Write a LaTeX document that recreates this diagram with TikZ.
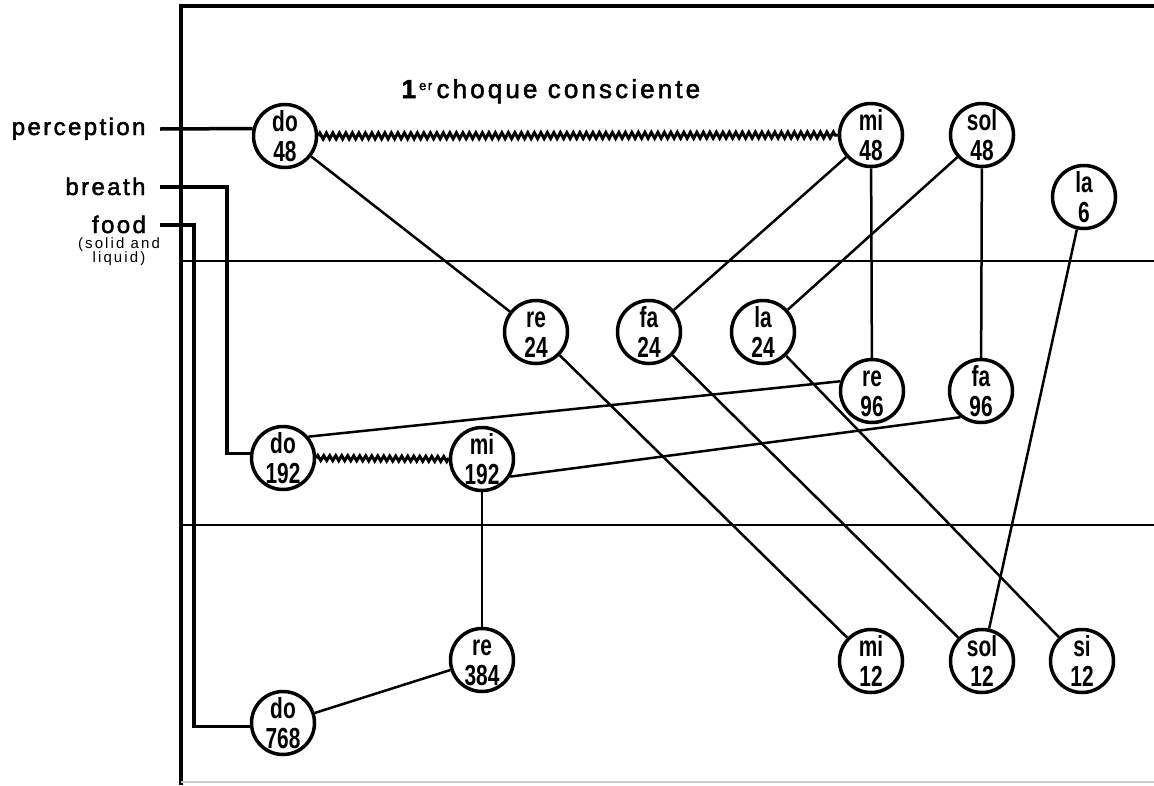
\documentclass[tikz,border=0pt]{standalone}
\usepackage{fontspec}
\setmainfont{Liberation Sans}
\newfontfamily\notefont[FakeStretch=0.72,UprightFont=* Bold]{Liberation Sans}
\newfontfamily\spacedfont[LetterSpace=10,FakeBold=2]{Liberation Sans}
\newfontfamily\smallspaced[LetterSpace=14]{Liberation Sans}
\newfontfamily\titlefont[LetterSpace=12,FakeBold=2]{Liberation Sans}
\usetikzlibrary{decorations.pathmorphing}
\newcommand\pitch[2]{\vphantom{d}#1\\#2}

\begin{document}
\begin{tikzpicture}[x=1pt,y=-1pt,
  note/.style={circle, draw, line width=3.5pt, minimum size=63pt, inner sep=0pt,
    align=center, font=\notefont\fontsize{29}{30}\selectfont},
  link/.style={line width=2.5pt},
  feed/.style={line width=3.5pt},
  frame/.style={line width=3.5pt},
  band/.style={line width=2.5pt},
  shock/.style={line width=3pt, decorate,
    decoration={zigzag, amplitude=3pt, segment length=6.5pt}},
  inlabel/.style={font=\spacedfont\fontsize{24}{24}\selectfont},
  sublabel/.style={font=\smallspaced\fontsize{15}{15}\selectfont}
]
\useasboundingbox (0,0) rectangle (1154,785);

% frame and the two level bands
\draw[frame] (181,785) -- (181,6) -- (1154,6);
\draw[band] (181,261) -- (1154,261);
\draw[band] (181,525) -- (1154,525);
\draw[line width=1.5pt, black!20] (181,782) -- (1154,782);

% title
\node[anchor=base west, font=\titlefont\fontsize{26}{26}\selectfont] (title) at (398,98)
  {\textbf{1}\raisebox{8pt}{\fontsize{13}{13}\selectfont er}\,choque consciente};

% octave notes
\node[note] (do48)  at (285,136) {\pitch{do}{48}};
\node[note] (mi48)  at (871,135) {\pitch{mi}{48}};
\node[note] (sol48) at (982,135) {\pitch{sol}{48}};
\node[note] (la6)   at (1084,197) {\pitch{la}{6}};
\node[note] (re24)  at (536,332) {\pitch{re}{24}};
\node[note] (fa24)  at (649,332) {\pitch{fa}{24}};
\node[note] (la24)  at (763,332) {\pitch{la}{24}};
\node[note] (re96)  at (872,391) {\pitch{re}{96}};
\node[note] (fa96)  at (981,391) {\pitch{fa}{96}};
\node[note] (do192) at (283,458) {\pitch{do}{192}};
\node[note] (mi192) at (482,459) {\pitch{mi}{192}};
\node[note] (re384) at (482,660) {\pitch{re}{384}};
\node[note] (mi12)  at (871,661) {\pitch{mi}{12}};
\node[note] (sol12) at (982,661) {\pitch{sol}{12}};
\node[note] (si12)  at (1082,661) {\pitch{si}{12}};
\node[note] (do768) at (283,723) {\pitch{do}{768}};

% inputs
\node[inlabel, anchor=base east] (perception) at (149,135) {perception};
\node[inlabel, anchor=base east] (breath) at (149,195) {breath};
\node[inlabel, anchor=base] (food) at (119,233) {food};
\node[sublabel, anchor=base] (solid) at (119,248) {(solid and};
\node[sublabel, anchor=base] (liquid) at (119,262) {liquid)};

\coordinate (pin) at (160,129);
\coordinate (bin) at (160,187);
\coordinate (bturn) at (227,187);
\coordinate (fin) at (160,225);
\coordinate (fturn) at (194,225);
\draw[feed] (pin) -- (do48.167);
\draw[feed] (bin) -- (bturn) |- (do192.172);
\draw[feed] (fin) -- (fturn) |- (do768.186);

% shocks
\draw[shock] (do48.east) -- (mi48.west);
\draw[shock, decoration={amplitude=2.5pt, segment length=6pt}] (do192.east) -- (mi192.west);

% transitions
\draw[link] (do48) -- (re24);
\draw[link] (mi48) -- (fa24);
\draw[link] (mi48) -- (re96);
\draw[link] (sol48) -- (la24);
\draw[link] (sol48) -- (fa96);
\draw[link] (la6) -- (sol12);
\draw[link] (re24) -- (mi12);
\draw[link] (fa24) -- (sol12);
\draw[link] (la24) -- (si12);
\draw[link] (re96.163) -- (do192.40);
\draw[link] (fa96.232) -- (mi192.328);
\draw[line width=2pt] (mi192) -- (re384);
\draw[link] (re384) -- (do768);
\end{tikzpicture}
\end{document}
